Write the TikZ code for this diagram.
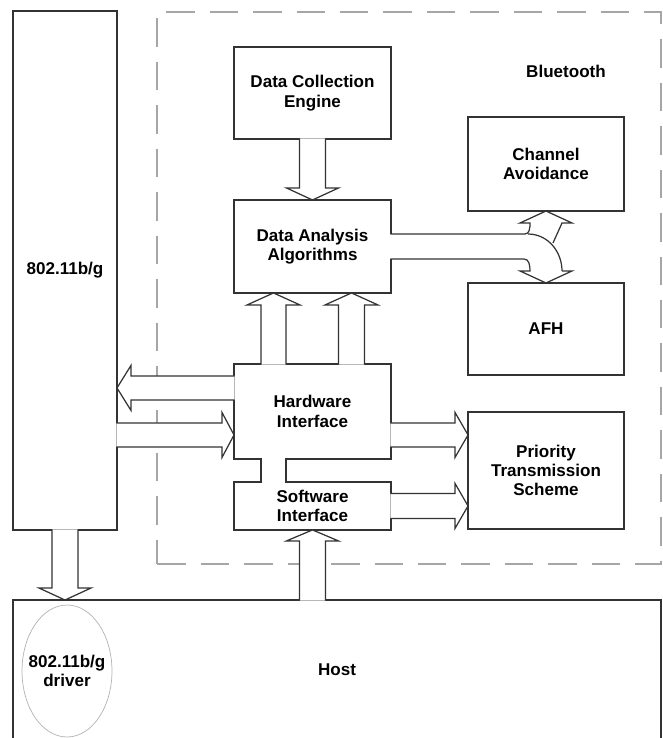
\documentclass[tikz,border=0pt]{standalone}
\usepackage{fontspec}
\setmainfont{Liberation Sans}
\usetikzlibrary{calc,positioning,shapes.geometric}
\newcommand{\lbl}{\bfseries\fontsize{9.7}{11}\selectfont}
% block arrow: base, tip, half stem width, half head width, head length
\newcommand{\blockarr}[5]{%
  \path (#2) coordinate (ta) ($(#2)!#5!(#1)$) coordinate (th) ($(#1)!-0.35pt!(#2)$) coordinate (tb);
  \draw[barrow] ($(tb)!#3!90:(ta)$) -- ($(th)!#3!90:(ta)$) -- ($(th)!#4!90:(ta)$) -- (ta)
    -- ($(th)!#4!-90:(ta)$) -- ($(th)!#3!-90:(ta)$) -- ($(tb)!#3!-90:(ta)$);
}
\tikzset{
  box/.style={rectangle, draw=black!80, line width=0.7pt, inner sep=0pt, outer sep=0pt, align=center, font=\lbl},
  btbox/.style={rectangle, draw=gray!70, line width=0.9pt, dash pattern=on 0.57cm off 0.3cm, inner sep=0pt, outer sep=0pt},
  drvell/.style={ellipse, draw=gray!60, line width=0.4pt, inner sep=0pt},
  barrow/.style={draw=black!80, fill=white, line width=0.7pt, line join=miter},
  bline/.style={draw=black!80, line width=0.7pt},
}
\begin{document}
\begin{tikzpicture}[x=0.02cm,y=-0.02cm]
\useasboundingbox (0,0) rectangle (663,738);

  \node[btbox, minimum width=10.08cm, minimum height=11.04cm] (bt) at (409,288) {};
  \node[font=\lbl] (btlabel) at (566,71) {Bluetooth};
  \node[box, minimum width=2.08cm, minimum height=10.38cm] (w802) at (65,270.5) {802.11b/g};
  \node[box, minimum width=12.96cm, minimum height=2.8cm] (host) at (337,670) {Host};
  \node[drvell, minimum width=1.8cm, minimum height=2.64cm,
        label={[font=\lbl, align=center]center:802.11b/g\\driver}] (drv) at (67,671) {};

  \node[box, minimum width=3.14cm, minimum height=1.84cm] (dce) at (312.5,93) {Data Collection\\Engine};
  \node[box, minimum width=3.14cm, minimum height=1.86cm, below=1.22cm of dce] (daa) {Data Analysis\\Algorithms};
  \node[box, minimum width=3.14cm, minimum height=1.9cm, below=1.42cm of daa] (hw) {Hardware\\Interface};
  \node[box, minimum width=3.14cm, minimum height=0.96cm, below=0.46cm of hw] (sw) {Software\\Interface};
  \node[box, minimum width=3.12cm, minimum height=1.88cm] (ca) at (546,164) {Channel\\Avoidance};
  \node[box, minimum width=3.12cm, minimum height=1.84cm, below=1.44cm of ca] (afh) {AFH};
  \node[box, minimum width=3.12cm, minimum height=2.34cm, below=0.74cm of afh] (pts) {Priority\\Transmission\\Scheme};

  % band between hardware and software interface
  \fill[white] ($(hw.south west)+(27,-0.6)$) rectangle ($(sw.north west)+(52,0.6)$);
  \draw[bline] ($(hw.south west)+(27,-0.6)$) -- ($(sw.north west)+(27,0.6)$);
  \draw[bline] ($(hw.south west)+(52,-0.6)$) -- ($(sw.north west)+(52,0.6)$);

  \coordinate (hwa) at ($(hw.north west)+(39.5,0)$);
  \coordinate (hwb) at ($(hw.north west)+(117.5,0)$);
  \coordinate (hwl) at ($(hw.west)+(0,-23.5)$);
  \coordinate (hwr) at ($(hw.west)+(0,23.5)$);
  \coordinate (hwp) at ($(hw.east)+(0,23.5)$);
  \coordinate (daaa) at (daa.south -| hwa);
  \coordinate (daab) at (daa.south -| hwb);
  \coordinate (wl) at (w802.east |- hwl);
  \coordinate (wr) at (w802.east |- hwr);
  \coordinate (hostw) at (host.north -| w802.south);
  \coordinate (hosts) at (host.north -| sw.south);
  \coordinate (ptsh) at (pts.west |- hwp);
  \coordinate (ptss) at (pts.west |- sw.east);

  \blockarr{dce.south}{daa.north}{0.26cm}{0.52cm}{0.24cm}
  \blockarr{hwa}{daaa}{0.25cm}{0.53cm}{0.24cm}
  \blockarr{hwb}{daab}{0.26cm}{0.53cm}{0.24cm}
  \blockarr{hwl}{wl}{0.24cm}{0.45cm}{0.28cm}
  \blockarr{wr}{hwr}{0.24cm}{0.45cm}{0.24cm}
  \blockarr{w802.south}{hostw}{0.26cm}{0.52cm}{0.24cm}
  \blockarr{hosts}{sw.south}{0.26cm}{0.52cm}{0.22cm}
  \blockarr{hwp}{ptsh}{0.24cm}{0.45cm}{0.26cm}
  \blockarr{sw.east}{ptss}{0.25cm}{0.45cm}{0.26cm}

  % split arrow to channel avoidance and AFH
  \fill[white] ($(daa.east)+(-0.6,-12.5)$) rectangle ($(daa.east)+(3,12.5)$);
  \draw[bline] ($(daa.east)+(-0.6,-12.5)$) -- ($(ca.south)+(-21,23)$) to[out=0,in=-90] ($(ca.south)+(-16,12)$)
    -- ($(ca.south)+(-26,12)$) -- (ca.south) -- ($(ca.south)+(26,12)$) -- ($(ca.south)+(16,12)$) -- ($(ca.south)+(7,32)$);
  \draw[bline] ($(ca.south)+(-18,23)$) to[out=0,in=90] ($(afh.north)+(16,-12)$);
  \draw[bline] ($(daa.east)+(-0.6,12.5)$) -- ($(afh.north)+(-22,-24)$) to[out=0,in=90] ($(afh.north)+(-16,-12)$)
    -- ($(afh.north)+(-26,-12)$) -- (afh.north) -- ($(afh.north)+(26,-12)$) -- ($(afh.north)+(16,-12)$);
\end{tikzpicture}
\end{document}
